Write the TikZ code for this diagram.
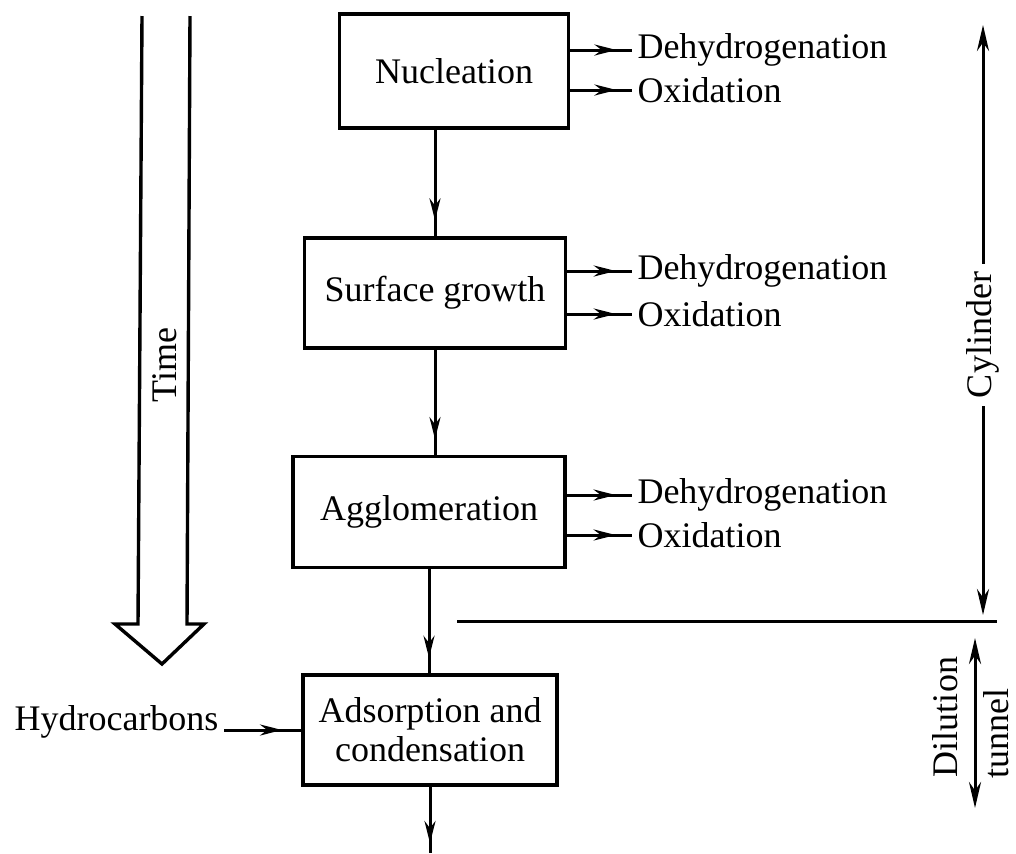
\documentclass[tikz,border=0pt]{standalone}
\usepackage{fontspec}
\setmainfont{Liberation Serif}
\usetikzlibrary{ % tikz packages
    positioning,
    arrows.meta,decorations.markings
}
\tikzset{stage/.style={
    draw,
    line width=1.6pt,
    inner sep=2pt
}}
\tikzset{product/.style={
    anchor=west,
    inner sep=2pt
}}
\tikzset{flowto/.style={
    postaction={decorate},
    decoration={markings,
        mark=at position #1 with {\arrow{Stealth[length=11pt,width=5.5pt]}}}
}}
\tikzset{>={Stealth[length=13pt,width=6pt]}}
\newcommand{\dehyd}{Dehydrogenation}
\newcommand{\oxid}{Oxidation}

\begin{document}
\begin{tikzpicture}[x=0.5pt,y=-0.5pt,line width=1.5pt,
        font=\fontsize{18}{19.5}\selectfont]
        \useasboundingbox (0,0) rectangle (1016,853);

        \node[stage, minimum width=114.5pt, minimum height=57pt] (nuc) at (454,71) {Nucleation};
        \node[stage, minimum width=130.5pt, minimum height=55pt] (surf) at (435,293) {Surface growth};
        \node[stage, minimum width=136pt, minimum height=55.5pt] (agg) at (429,512) {Agglomeration};
        \node[stage, minimum width=127pt, minimum height=55pt, align=center] (ads) at (430,730) {Adsorption and\\condensation};

        % products on the right
        \node[product] (nucD) at (632,50) {\dehyd};
        \node[product] (nucO) at (632,90) {\oxid};
        \node[product] (surfD) at (632,271) {\dehyd};
        \node[product] (surfO) at (632,314) {\oxid};
        \node[product] (aggD) at (632,495) {\dehyd};
        \node[product] (aggO) at (632,535) {\oxid};

        \draw[flowto=0.75] (nuc.east |- nucD) -- (nucD.west);
        \draw[flowto=0.75] (nuc.east |- nucO) -- (nucO.west);
        \draw[flowto=0.75] (surf.east |- surfD) -- (surfD.west);
        \draw[flowto=0.75] (surf.east |- surfO) -- (surfO.west);
        \draw[flowto=0.75] (agg.east |- aggD) -- (aggD.west);
        \draw[flowto=0.75] (agg.east |- aggO) -- (aggO.west);

        % main chain
        \coordinate (out) at (430,853);
        \draw[flowto=0.85] (nuc.south -| surf.north) -- (surf.north);
        \draw[flowto=0.85] (surf.south) -- (surf.south |- agg.north);
        \draw[flowto=0.85] (agg.south) -- (agg.south |- ads.north);
        \draw[flowto=0.85] (ads.south) -- (out);

        \node[anchor=east, inner sep=2pt] (hc) at (224,722) {Hydrocarbons};
        \draw[flowto=0.75] (hc.east |- ads.west) -- (ads.west);

        % time arrow
        \node[rotate=90] (time) at (165,365) {Time};
        \draw[line width=1.7pt, line join=miter]
            (142,16) -- (138,624) -- (115,624) -- (162,664)
            -- (204,624) -- (187,624) -- (190,16);

        % cylinder / dilution tunnel
        \coordinate (sepL) at (457,621);
        \coordinate (sepR) at (997,621);
        \draw (sepL) -- (sepR);

        \node[rotate=90, fill=white] (cyl) at (983,335) {Cylinder};
        \coordinate (cyltop) at (983,25);
        \coordinate (cylbot) at (983,615);
        \draw[->] (cyl) -- (cyltop);
        \draw[->] (cyl) -- (cylbot);

        \coordinate (diltop) at (975,638);
        \coordinate (dilbot) at (975,808);
        \draw[<->] (diltop) -- (dilbot);
        \node[rotate=90] (dil) at (945,717) {Dilution};
        \node[rotate=90, inner sep=0pt] (tun) at (996,733) {tunnel};
    \end{tikzpicture}
\end{document}
